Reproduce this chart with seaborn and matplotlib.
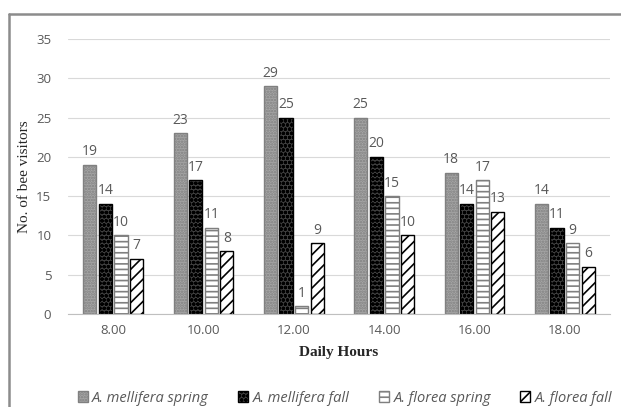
import pandas as pd
import seaborn as sns
import matplotlib.pyplot as plt
from matplotlib.lines import Line2D

hours = ["8.00", "10.00", "12.00", "14.00", "16.00", "18.00"]
series = ["A. mellifera spring", "A. mellifera fall", "A. florea spring", "A. florea fall"]
mellifera_spring = [19, 23, 29, 25, 18, 14]
mellifera_fall = [14, 17, 25, 20, 14, 11]
florea_spring = [10, 11, 1, 15, 17, 9]
florea_fall = [7, 8, 9, 10, 13, 6]

rows = []
for name, vals in zip(series, [mellifera_spring, mellifera_fall, florea_spring, florea_fall]):
    for h, v in zip(hours, vals):
        rows.append({"hour": h, "series": name, "visitors": v})
df = pd.DataFrame(rows)

sns.set_style("white")
plt.rcParams["hatch.linewidth"] = 1.2

W, H = 621, 407
fig = plt.figure(figsize=(W / 100, H / 100), dpi=100)
ax = fig.add_axes([68 / W, 1 - 314 / H, 542 / W, 275 / H])

ax = sns.barplot(data=df, x="hour", y="visitors", hue="series", hue_order=series,
                 order=hours, width=0.69, gap=0.16, ax=ax, legend=False)

# pattern fills like the original
styles = [
    dict(fc="#a6a6a6", ec="#808080", hatch="......"),
    dict(fc="#404040", ec="black", hatch="oooo"),
    dict(fc="white", ec="#7f7f7f", hatch="---"),
    dict(fc="white", ec="black", hatch="///"),
]
for cont, st in zip(ax.containers, styles):
    for p in cont.patches:
        p.set_facecolor(st["fc"])
        p.set_edgecolor(st["ec"])
        p.set_hatch(st["hatch"])
        p.set_linewidth(1.0)
    ax.bar_label(cont, padding=4, color="#595959", fontsize=10, family="Open Sans")

ax.set_ylim(0, 35)
ax.set_yticks(range(0, 36, 5))
ax.yaxis.grid(True, color="#d9d9d9", linewidth=0.8)
ax.set_axisbelow(True)
for s in ["top", "right", "left"]:
    ax.spines[s].set_visible(False)
ax.spines["bottom"].set_color("#bfbfbf")
ax.tick_params(axis="both", length=0, colors="#595959", labelsize=9.5)
ax.tick_params(axis="y", pad=12)
ax.tick_params(axis="x", pad=7)
for lab in ax.get_xticklabels() + ax.get_yticklabels():
    lab.set_family("Open Sans")

ax.set_xlabel("Daily Hours", family="Liberation Serif", fontweight="bold", fontsize=11, labelpad=7)
ax.set_ylabel("No. of bee visitors", family="Liberation Serif", fontsize=11)
ax.yaxis.set_label_coords(-0.068, 0.5)

handles = [plt.Rectangle((0, 0), 1, 1, facecolor=st["fc"], edgecolor=st["ec"], hatch=st["hatch"])
           for st in styles]
leg = fig.legend(handles, series, loc="center", bbox_to_anchor=(345 / W, 1 - 398 / H), ncol=4,
                 frameon=False, handlelength=0.7, handleheight=0.7, handletextpad=0.3,
                 columnspacing=2.0, borderaxespad=0,
                 prop={"family": "Open Sans", "style": "italic", "size": 10.5})
for t in leg.get_texts():
    t.set_color("#595959")

# frame lines at top and left of the picture
fig.add_artist(Line2D([9 / W, 1], [1 - 14 / H, 1 - 14 / H], color="#8c8c8c", lw=1.8,
                      transform=fig.transFigure))
fig.add_artist(Line2D([9 / W, 9 / W], [0, 1 - 14 / H], color="#8c8c8c", lw=1.8,
                      transform=fig.transFigure))

fig.savefig("out.png", dpi=100)
